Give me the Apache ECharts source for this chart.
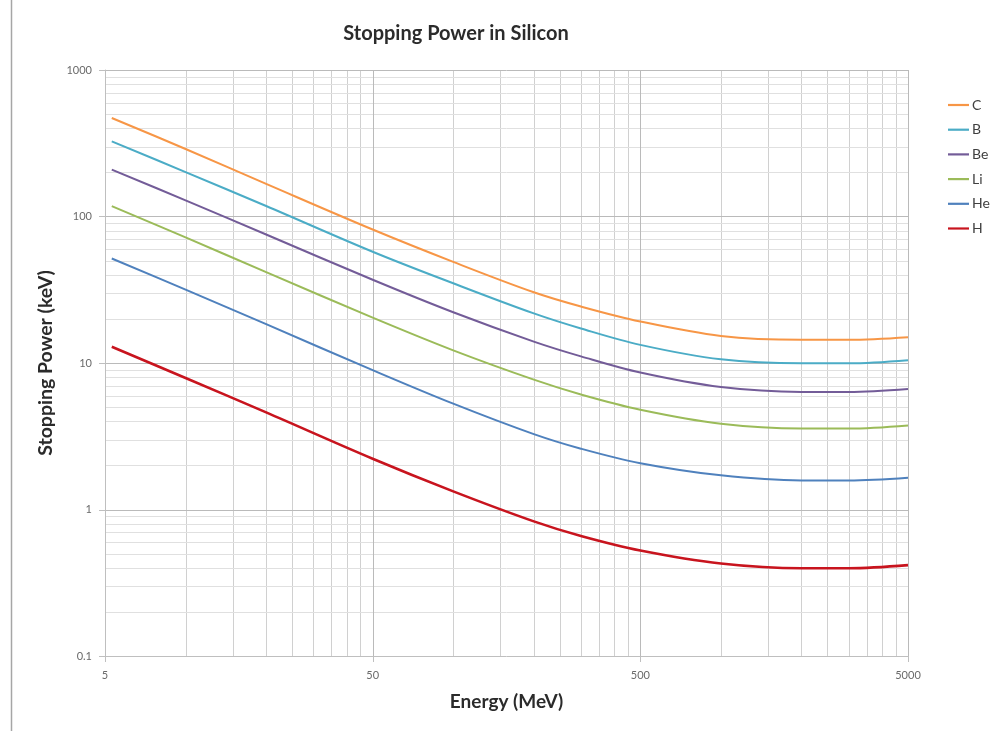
<!DOCTYPE html>
<html>
<head>
<meta charset="utf-8">
<title>Stopping Power in Silicon</title>
<script src="https://cdn.jsdelivr.net/npm/echarts@6/dist/echarts.min.js"></script>
<style>
  html, body { margin: 0; padding: 0; background: #ffffff; }
  #chart { width: 1003px; height: 731px; }
</style>
</head>
<body>
<div id="chart"></div>
<script>
// Energy per nucleon (MeV) at which each curve is sampled
const energy = [5.3, 10, 20, 50, 100, 200, 300, 500, 1000, 2000, 3000, 5000];

// Stopping power (keV) for each ion
const spC  = [470, 289, 167, 81.5, 49.0, 30.4, 24.3, 19.2, 15.3, 14.4, 14.4, 15.0];
const spB  = [326, 201, 118, 57.5, 35.0, 21.8, 17.2, 13.3, 10.6, 9.95, 9.95, 10.45];
const spBe = [209, 129, 75.4, 37.0, 22.2, 14.0, 11.1, 8.6, 6.85, 6.35, 6.35, 6.65];
const spLi = [117.6, 72, 41.7, 20.4, 12.2, 7.7, 6.1, 4.8, 3.85, 3.57, 3.57, 3.75];
const spHe = [51.7, 31.7, 18.4, 8.94, 5.28, 3.27, 2.60, 2.07, 1.71, 1.58, 1.58, 1.65];
const spH  = [12.9, 7.9, 4.6, 2.22, 1.33, 0.83, 0.66, 0.525, 0.428, 0.397, 0.397, 0.417];

const ionNames = ['C', 'B', 'Be', 'Li', 'He', 'H'];
const ionValues = [spC, spB, spBe, spLi, spHe, spH];

// Labelled decades on each axis
const xMajor = [5, 50, 500, 5000];
const yMajor = [0.1, 1, 10, 100, 1000];

const colors = ['#F79646', '#4BACC6', '#735C98', '#9BBB59', '#4F81BD', '#C8141E'];
const FONT = 'Lato, "Open Sans", "DejaVu Sans", sans-serif';

// Minor grid values: 2..9 times the start of each labelled decade
function minorValues(major) {
  const out = [];
  for (let i = 0; i < major.length - 1; i++) {
    for (let k = 2; k <= 9; k++) out.push(+(major[i] * k).toPrecision(6));
  }
  return out;
}
const xMinor = minorValues(xMajor);
const yMinor = minorValues(yMajor);

const chart = echarts.init(document.getElementById('chart'), null, { renderer: 'canvas' });

chart.setOption({
  animation: false,
  backgroundColor: '#ffffff',
  title: {
    text: 'Stopping Power in Silicon',
    left: 451,
    top: 19,
    textAlign: 'center',
    textStyle: { fontFamily: FONT, fontWeight: 'bold', fontSize: 20, color: '#2b2b2b' }
  },
  legend: {
    orient: 'vertical',
    left: 943,
    top: 93,
    itemWidth: 21,
    itemHeight: 14,
    itemGap: 10.7,
    icon: 'path://M0,0L21,0L21,2.2L0,2.2Z',
    data: ionNames,
    textStyle: { fontFamily: FONT, fontSize: 14, color: '#404040', padding: [0, 0, 0, -2] }
  },
  grid: { left: 105, right: 95, top: 70, bottom: 75, containLabel: false },
  xAxis: {
    type: 'log',
    logBase: 10,
    min: xMajor[0],
    max: xMajor[xMajor.length - 1],
    name: 'Energy (MeV)',
    nameLocation: 'middle',
    nameGap: 36,
    nameTextStyle: { fontFamily: FONT, fontWeight: 'bold', fontSize: 19, color: '#2b2b2b' },
    axisLine: { show: true, onZero: false, lineStyle: { color: '#bfbfbf', width: 1 } },
    axisTick: { show: false },
    axisLabel: { show: false },
    splitLine: { show: false }
  },
  yAxis: {
    type: 'log',
    logBase: 10,
    min: yMajor[0],
    max: yMajor[yMajor.length - 1],
    name: 'Stopping Power (keV)',
    nameLocation: 'middle',
    nameGap: 49,
    nameTextStyle: { fontFamily: FONT, fontWeight: 'bold', fontSize: 19.5, color: '#2b2b2b' },
    axisLine: { show: true, onZero: false, lineStyle: { color: '#bfbfbf', width: 1 } },
    axisTick: { show: false },
    axisLabel: { show: false },
    splitLine: { show: false }
  },
  series: ionNames.map((name, i) => ({
    name: name,
    type: 'line',
    data: energy.map((e, j) => [e, ionValues[i][j]]),
    smooth: 0.35,
    symbol: 'none',
    z: 3,
    lineStyle: { color: colors[i], width: name === 'H' ? 2.6 : 2 },
    itemStyle: { color: colors[i] }
  }))
});

// Grid lines, ticks and tick labels placed through the axes' own log scales
const toPx = (x, y) => chart.convertToPixel({ gridIndex: 0 }, [x, y]);
const xLo = xMajor[0], xHi = xMajor[xMajor.length - 1];
const yLo = yMajor[0], yHi = yMajor[yMajor.length - 1];
const shapes = [];

function vLine(v, color) {
  const a = toPx(v, yLo), b = toPx(v, yHi);
  const x = Math.round(a[0]) + 0.5;
  shapes.push({ type: 'line', z: 0, silent: true,
    shape: { x1: x, y1: a[1], x2: x, y2: b[1] }, style: { stroke: color, lineWidth: 1 } });
}
function hLine(v, color) {
  const a = toPx(xLo, v), b = toPx(xHi, v);
  const y = Math.round(a[1]) + 0.5;
  shapes.push({ type: 'line', z: 0, silent: true,
    shape: { x1: a[0], y1: y, x2: b[0], y2: y }, style: { stroke: color, lineWidth: 1 } });
}

xMinor.forEach(v => vLine(v, '#d0d0d0'));
yMinor.forEach(v => hLine(v, '#e0e0e0'));
xMajor.slice(1).forEach(v => vLine(v, '#bababa'));
yMajor.slice(1).forEach(v => hLine(v, '#bababa'));

const tickLen = 6;
xMajor.forEach(v => {
  const p = toPx(v, yLo);
  const x = Math.round(p[0]) + 0.5;
  shapes.push({ type: 'line', z: 1, silent: true,
    shape: { x1: x, y1: p[1], x2: x, y2: p[1] + tickLen }, style: { stroke: '#bfbfbf', lineWidth: 1 } });
  shapes.push({ type: 'text', z: 1, silent: true, x: p[0], y: p[1] + 14,
    style: { text: String(v), fill: '#6a6a6a', font: '11px ' + FONT, align: 'center', verticalAlign: 'top' } });
});
yMajor.forEach(v => {
  const p = toPx(xLo, v);
  const y = Math.round(p[1]) + 0.5;
  shapes.push({ type: 'line', z: 1, silent: true,
    shape: { x1: p[0] - tickLen, y1: y, x2: p[0], y2: y }, style: { stroke: '#bfbfbf', lineWidth: 1 } });
  shapes.push({ type: 'text', z: 1, silent: true, x: p[0] - 13, y: p[1],
    style: { text: String(v), fill: '#6a6a6a', font: '11px ' + FONT, align: 'right', verticalAlign: 'middle' } });
});

// Frame edge along the left side of the chart
shapes.push({ type: 'line', z: 0, silent: true,
  shape: { x1: 11.5, y1: 0, x2: 11.5, y2: 731 }, style: { stroke: '#a6a6a6', lineWidth: 1.5 } });

chart.setOption({ graphic: { elements: shapes } });
</script>
</body>
</html>
